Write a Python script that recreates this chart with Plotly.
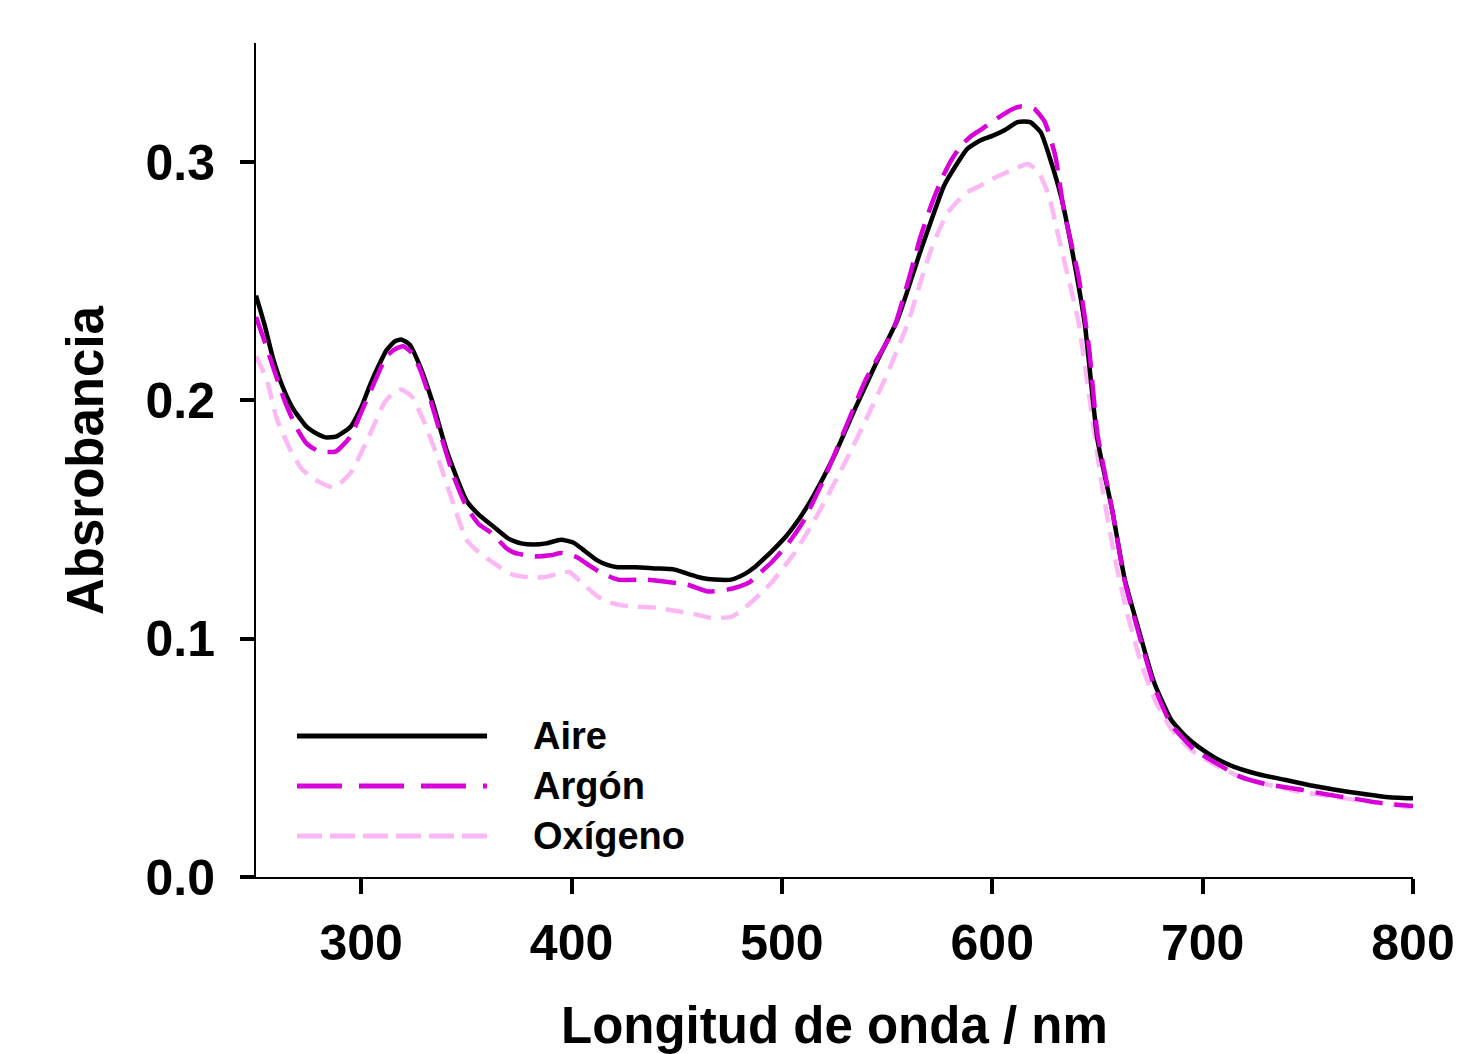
import plotly.graph_objects as go

# ---- data ----
wl_aire = [250, 254, 258, 263, 268, 274, 279, 283, 288, 295, 300, 304, 308, 312, 316, 319, 323, 328,
           334, 341, 350, 356, 363, 370, 376, 382, 388, 395, 401, 406, 412, 417, 422, 430, 440, 449,
           456, 462, 468, 476, 482, 487, 492, 496, 502, 508, 515, 525, 535, 545, 555, 566, 572, 577,
           583, 588, 594, 600, 606, 612, 618, 623, 628, 633, 639, 644, 650, 657, 663, 670, 677, 685,
           692, 698, 706, 715, 727, 739, 751, 763, 775, 787, 800]
abs_aire = [0.244, 0.232, 0.218, 0.205, 0.196, 0.189, 0.186, 0.1845, 0.1848, 0.189, 0.197, 0.206,
            0.214, 0.221, 0.2248, 0.2256, 0.2235, 0.2143, 0.199, 0.178, 0.158, 0.152, 0.147, 0.142,
            0.140, 0.1395, 0.140, 0.1415, 0.1403, 0.137, 0.133, 0.131, 0.130, 0.130, 0.1295, 0.129,
            0.127, 0.1255, 0.1248, 0.1248, 0.127, 0.130, 0.134, 0.1374, 0.143, 0.150, 0.160, 0.177,
            0.197, 0.216, 0.234, 0.263, 0.278, 0.290, 0.299, 0.3055, 0.309, 0.311, 0.3135, 0.3168,
            0.3168, 0.3126, 0.300, 0.2845, 0.258, 0.232, 0.1836, 0.154, 0.1248, 0.1025, 0.0815,
            0.066, 0.059, 0.0546, 0.050, 0.0462, 0.043, 0.0408, 0.0385, 0.0366, 0.035, 0.0336, 0.033]

wl_argon = [250, 254, 258, 264, 269, 274, 280, 288, 295, 300, 306, 312, 316, 320, 324, 328, 333,
            338, 344, 350, 356, 361, 365, 369, 373, 382, 390, 395, 400, 403, 408, 414, 422, 436,
            444, 455, 465, 474, 480, 485, 490, 495, 503, 510, 520, 530, 540, 553, 560, 566, 571,
            576, 580, 585, 590, 595, 600, 604, 609, 614, 620, 625, 630, 634, 641, 646, 650, 657,
            663, 670, 677, 685, 692, 696, 706, 718, 730, 747, 760, 771, 785, 800]
abs_argon = [0.235, 0.225, 0.2143, 0.199, 0.189, 0.182, 0.1786, 0.1786, 0.185, 0.195, 0.207,
             0.2185, 0.2215, 0.2227, 0.220, 0.213, 0.200, 0.185, 0.168, 0.1555, 0.148, 0.145,
             0.1416, 0.138, 0.136, 0.1345, 0.135, 0.136, 0.135, 0.134, 0.131, 0.1277, 0.1248,
             0.1248, 0.124, 0.1227, 0.1198, 0.1206, 0.122, 0.124, 0.128, 0.132, 0.140, 0.149,
             0.167, 0.188, 0.209, 0.2298, 0.250, 0.269, 0.282, 0.293, 0.300, 0.3067, 0.311,
             0.3139, 0.317, 0.3193, 0.322, 0.3235, 0.3223, 0.3168, 0.3025, 0.280, 0.252, 0.222,
             0.186, 0.154, 0.124, 0.101, 0.080, 0.064, 0.057, 0.0534, 0.048, 0.042, 0.039,
             0.0366, 0.0345, 0.033, 0.031, 0.0298]

wl_oxig = [250, 255, 260, 267, 272, 278, 287, 295, 303, 311, 315, 319, 324, 330, 338, 344, 350,
           355, 361, 366, 372, 381, 388, 395, 399, 403, 407, 412, 417, 424, 431, 440, 452, 460,
           466, 476, 481, 485, 490, 495, 500, 506, 513, 520, 530, 540, 550, 560, 566, 571, 575,
           579, 584, 588, 594, 600, 605, 610, 617, 622, 627, 631, 636, 641, 647, 652, 658, 664,
           671, 678, 686, 695, 706, 718, 730, 745, 760, 775, 790, 800]
abs_oxig = [0.2185, 0.209, 0.192, 0.178, 0.171, 0.1668, 0.1634, 0.1697, 0.1836, 0.199, 0.203,
            0.2046, 0.2017, 0.1908, 0.172, 0.156, 0.1416, 0.137, 0.133, 0.130, 0.1269, 0.1256,
            0.126, 0.1277, 0.128, 0.125, 0.1218, 0.118, 0.1155, 0.114, 0.1134, 0.113, 0.1113,
            0.110, 0.1088, 0.1092, 0.112, 0.115, 0.119, 0.1235, 0.129, 0.136, 0.146, 0.157,
            0.174, 0.192, 0.211, 0.2328, 0.250, 0.2634, 0.272, 0.279, 0.284, 0.2874, 0.290,
            0.2929, 0.295, 0.297, 0.2992, 0.2958, 0.2857, 0.2706, 0.252, 0.2328, 0.196, 0.165,
            0.135, 0.111, 0.089, 0.073, 0.061, 0.053, 0.047, 0.042, 0.039, 0.036, 0.034, 0.032,
            0.0305, 0.029]

series_names = ["Aire", "Argón", "Oxígeno"]
x_ticks = [300, 400, 500, 600, 700, 800]
y_ticks = [0.0, 0.1, 0.2, 0.3]
y_tick_labels = ["0.0", "0.1", "0.2", "0.3"]

C_AIRE = "#000000"
C_ARGON = "#D800D8"
C_OXIG = "#FCB8F4"
FONT = "Liberation Sans, Arial, sans-serif"
LW = 4.5

fig = go.Figure()
fig.add_trace(go.Scatter(x=wl_oxig, y=abs_oxig, mode="lines", name=series_names[2],
                         line=dict(color=C_OXIG, width=LW, dash="18px,10px", shape="spline", smoothing=0.5),
                         showlegend=False))
fig.add_trace(go.Scatter(x=wl_aire, y=abs_aire, mode="lines", name=series_names[0],
                         line=dict(color=C_AIRE, width=LW, shape="spline", smoothing=0.5),
                         showlegend=False))
fig.add_trace(go.Scatter(x=wl_argon, y=abs_argon, mode="lines", name=series_names[1],
                         line=dict(color=C_ARGON, width=LW, dash="28px,12px", shape="spline", smoothing=0.5),
                         showlegend=False))

# custom legend (long sample lines as in the reference)
legend_rows = [(series_names[0], C_AIRE, "solid", 0.1691),
               (series_names[1], C_ARGON, "45px,17px", 0.1091),
               (series_names[2], C_OXIG, "25px,8px", 0.0492)]
for name, col, dash, yy in legend_rows:
    fig.add_shape(type="line", xref="paper", yref="paper", x0=0.0354, x1=0.1997, y0=yy, y1=yy,
                  line=dict(color=col, width=5, dash=dash))
    fig.add_annotation(text=name, xref="paper", yref="paper", x=0.2377, y=yy, xanchor="left",
                       yanchor="middle", showarrow=False,
                       font=dict(family=FONT, size=38, color="black", weight="bold"))

# axis titles
fig.add_annotation(text="Longitud de onda / nm", xref="paper", yref="paper", x=0.5, y=-0.178,
                   xanchor="center", yanchor="middle", showarrow=False,
                   font=dict(family=FONT, size=51, color="black", weight="bold"))
fig.add_annotation(text="Absrobancia", xref="paper", yref="paper", x=-0.1478, y=0.5,
                   xanchor="center", yanchor="middle", textangle=-90, showarrow=False,
                   font=dict(family=FONT, size=51, color="black", weight="bold"))

# the page adds an 8px body margin, so the figure is sized/margined to compensate
fig.update_layout(
    width=1454, height=1046,
    margin=dict(l=248, r=49, t=35, b=177, autoexpand=False),
    paper_bgcolor="white", plot_bgcolor="white",
    showlegend=False,
)
fig.update_xaxes(range=[250, 800], tickvals=x_ticks, showgrid=False, zeroline=False,
                 showline=True, linecolor="black", linewidth=2, automargin=False,
                 ticks="outside", ticklen=15, tickwidth=4, tickcolor="black",
                 ticklabelstandoff=6,
                 tickfont=dict(family=FONT, size=50, color="black", weight="bold"))
fig.update_yaxes(range=[0, 0.35], tickvals=y_ticks, ticktext=y_tick_labels, showgrid=False,
                 zeroline=False, showline=True, linecolor="black", linewidth=2, automargin=False,
                 ticks="outside", ticklen=14, tickwidth=4, tickcolor="black",
                 ticklabelstandoff=15,
                 tickfont=dict(family=FONT, size=50, color="black", weight="bold"))

fig.write_html("out.html")
